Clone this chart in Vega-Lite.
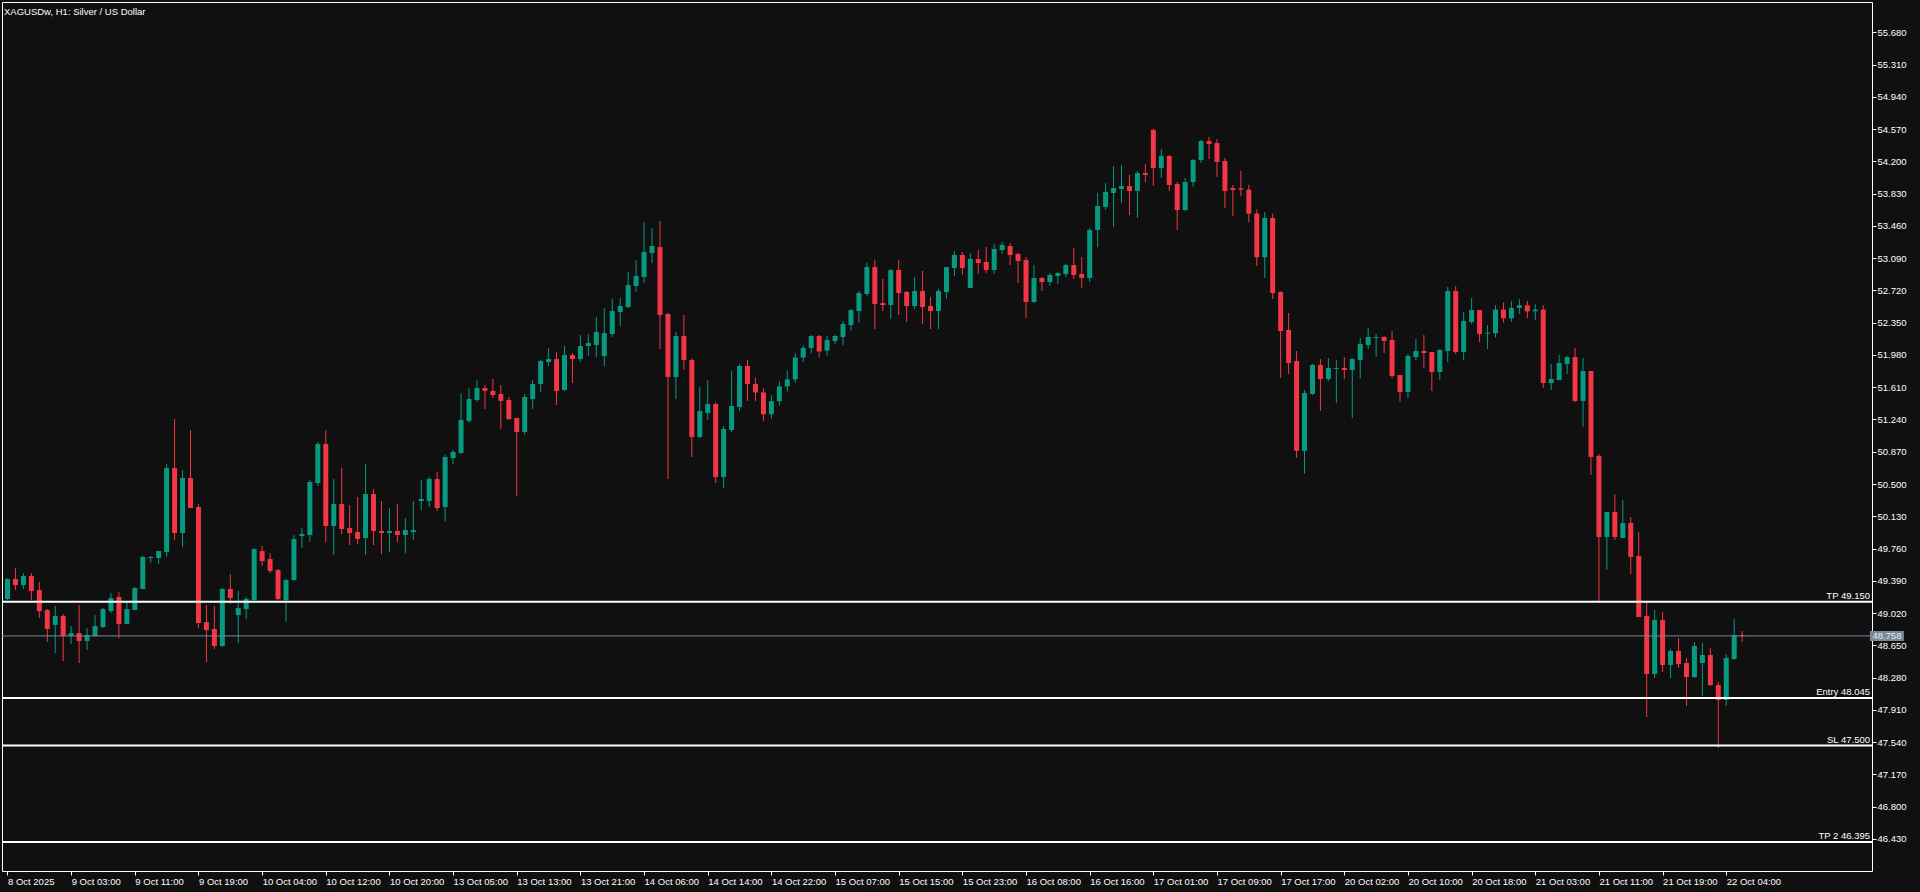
{
"$schema": "https://vega.github.io/schema/vega-lite/v6.json",
"width": 1870,
"height": 869,
"autosize": {"type": "none"},
"padding": {"left": 2, "top": 2, "right": 48, "bottom": 21},
"background": "#101010",
"view": {"stroke": "#ffffff", "strokeWidth": 1, "fill": "#101010"},
"title": {"text": "XAGUSDw, H1:  Silver / US Dollar", "anchor": "start", "frame": "group", "orient": "top", "offset": -14, "dx": 2, "fontSize": 9.5, "fontWeight": "normal", "color": "#ffffff", "font": "Liberation Sans"},
"datasets": {
"bars": [
{"i":0,"o":49.181,"h":49.418,"l":49.17,"c":49.41},
{"i":1,"o":49.41,"h":49.536,"l":49.284,"c":49.341},
{"i":2,"o":49.341,"h":49.479,"l":49.296,"c":49.445},
{"i":3,"o":49.445,"h":49.479,"l":49.169,"c":49.273},
{"i":4,"o":49.284,"h":49.376,"l":48.963,"c":49.043},
{"i":5,"o":49.055,"h":49.066,"l":48.688,"c":48.837},
{"i":6,"o":48.883,"h":49.101,"l":48.562,"c":48.986},
{"i":7,"o":48.986,"h":49.009,"l":48.47,"c":48.757},
{"i":8,"o":48.757,"h":48.871,"l":48.665,"c":48.791},
{"i":9,"o":48.791,"h":49.112,"l":48.447,"c":48.699},
{"i":10,"o":48.699,"h":48.848,"l":48.596,"c":48.768},
{"i":11,"o":48.757,"h":48.997,"l":48.745,"c":48.871},
{"i":12,"o":48.86,"h":49.078,"l":48.848,"c":49.066},
{"i":13,"o":49.043,"h":49.25,"l":49.02,"c":49.192},
{"i":14,"o":49.204,"h":49.261,"l":48.734,"c":48.894},
{"i":15,"o":48.894,"h":49.147,"l":48.894,"c":49.066},
{"i":16,"o":49.055,"h":49.319,"l":49.055,"c":49.307},
{"i":17,"o":49.296,"h":49.674,"l":49.296,"c":49.663},
{"i":18,"o":49.651,"h":49.674,"l":49.594,"c":49.663},
{"i":19,"o":49.651,"h":49.731,"l":49.582,"c":49.731},
{"i":20,"o":49.72,"h":50.729,"l":49.663,"c":50.683},
{"i":21,"o":50.683,"h":51.245,"l":49.858,"c":49.938},
{"i":22,"o":49.938,"h":50.66,"l":49.777,"c":50.568},
{"i":23,"o":50.568,"h":51.119,"l":50.224,"c":50.224},
{"i":24,"o":50.236,"h":50.27,"l":48.848,"c":48.906},
{"i":25,"o":48.917,"h":49.112,"l":48.458,"c":48.825},
{"i":26,"o":48.837,"h":49.101,"l":48.607,"c":48.642},
{"i":27,"o":48.642,"h":49.307,"l":48.63,"c":49.296},
{"i":28,"o":49.296,"h":49.468,"l":49.124,"c":49.192},
{"i":29,"o":48.997,"h":49.273,"l":48.676,"c":49.078},
{"i":30,"o":49.066,"h":49.204,"l":48.952,"c":49.181},
{"i":31,"o":49.17,"h":49.76,"l":49.16,"c":49.754},
{"i":32,"o":49.731,"h":49.789,"l":49.559,"c":49.617},
{"i":33,"o":49.64,"h":49.708,"l":49.479,"c":49.502},
{"i":34,"o":49.513,"h":49.525,"l":49.17,"c":49.18},
{"i":35,"o":49.17,"h":49.41,"l":48.92,"c":49.399},
{"i":36,"o":49.399,"h":49.915,"l":49.387,"c":49.869},
{"i":37,"o":49.903,"h":49.995,"l":49.766,"c":49.926},
{"i":38,"o":49.915,"h":50.546,"l":49.835,"c":50.523},
{"i":39,"o":50.511,"h":50.982,"l":50.477,"c":50.959},
{"i":40,"o":50.959,"h":51.119,"l":49.835,"c":50.018},
{"i":41,"o":50.018,"h":50.557,"l":49.685,"c":50.271},
{"i":42,"o":50.271,"h":50.683,"l":49.926,"c":49.984},
{"i":43,"o":49.995,"h":50.259,"l":49.8,"c":49.938},
{"i":44,"o":49.949,"h":50.351,"l":49.812,"c":49.869},
{"i":45,"o":49.881,"h":50.729,"l":49.685,"c":50.385},
{"i":46,"o":50.385,"h":50.442,"l":49.8,"c":49.961},
{"i":47,"o":49.961,"h":50.305,"l":49.697,"c":49.938},
{"i":48,"o":49.938,"h":50.224,"l":49.72,"c":49.961},
{"i":49,"o":49.961,"h":50.27,"l":49.835,"c":49.915},
{"i":50,"o":49.915,"h":50.11,"l":49.708,"c":49.972},
{"i":51,"o":49.949,"h":50.305,"l":49.858,"c":49.972},
{"i":52,"o":50.305,"h":50.546,"l":50.202,"c":50.328},
{"i":53,"o":50.305,"h":50.58,"l":50.236,"c":50.557},
{"i":54,"o":50.557,"h":50.637,"l":50.19,"c":50.224},
{"i":55,"o":50.236,"h":50.832,"l":50.075,"c":50.809},
{"i":56,"o":50.798,"h":50.89,"l":50.729,"c":50.867},
{"i":57,"o":50.856,"h":51.544,"l":50.844,"c":51.234},
{"i":58,"o":51.223,"h":51.601,"l":51.2,"c":51.475},
{"i":59,"o":51.463,"h":51.693,"l":51.441,"c":51.601},
{"i":60,"o":51.601,"h":51.635,"l":51.36,"c":51.567},
{"i":61,"o":51.567,"h":51.704,"l":51.486,"c":51.521},
{"i":62,"o":51.532,"h":51.635,"l":51.131,"c":51.452},
{"i":63,"o":51.463,"h":51.498,"l":51.234,"c":51.245},
{"i":64,"o":51.257,"h":51.257,"l":50.362,"c":51.096},
{"i":65,"o":51.096,"h":51.532,"l":51.062,"c":51.498},
{"i":66,"o":51.475,"h":51.692,"l":51.36,"c":51.647},
{"i":67,"o":51.647,"h":51.922,"l":51.555,"c":51.91},
{"i":68,"o":51.899,"h":52.059,"l":51.853,"c":51.933},
{"i":69,"o":51.933,"h":52.014,"l":51.406,"c":51.566},
{"i":70,"o":51.578,"h":52.082,"l":51.566,"c":51.979},
{"i":71,"o":51.979,"h":52.002,"l":51.658,"c":51.933},
{"i":72,"o":51.933,"h":52.208,"l":51.899,"c":52.082},
{"i":73,"o":52.082,"h":52.22,"l":51.968,"c":52.117},
{"i":74,"o":52.094,"h":52.415,"l":51.956,"c":52.243},
{"i":75,"o":51.968,"h":52.518,"l":51.853,"c":52.231},
{"i":76,"o":52.22,"h":52.621,"l":52.186,"c":52.484},
{"i":77,"o":52.472,"h":52.633,"l":52.312,"c":52.541},
{"i":78,"o":52.53,"h":52.931,"l":52.518,"c":52.782},
{"i":79,"o":52.77,"h":53.069,"l":52.702,"c":52.885},
{"i":80,"o":52.874,"h":53.504,"l":52.805,"c":53.16},
{"i":81,"o":53.149,"h":53.436,"l":53.034,"c":53.229},
{"i":82,"o":53.218,"h":53.516,"l":52.048,"c":52.438},
{"i":83,"o":52.449,"h":52.461,"l":50.557,"c":51.727},
{"i":84,"o":51.727,"h":52.243,"l":51.475,"c":52.197},
{"i":85,"o":52.197,"h":52.438,"l":51.807,"c":51.922},
{"i":86,"o":51.922,"h":51.945,"l":50.809,"c":51.039},
{"i":87,"o":51.039,"h":51.612,"l":51.027,"c":51.337},
{"i":88,"o":51.314,"h":51.692,"l":51.234,"c":51.417},
{"i":89,"o":51.417,"h":51.44,"l":50.511,"c":50.58},
{"i":90,"o":50.58,"h":51.165,"l":50.454,"c":51.131},
{"i":91,"o":51.119,"h":51.796,"l":51.096,"c":51.394},
{"i":92,"o":51.383,"h":51.876,"l":51.337,"c":51.853},
{"i":93,"o":51.853,"h":51.922,"l":51.452,"c":51.647},
{"i":94,"o":51.647,"h":51.72,"l":51.45,"c":51.55},
{"i":95,"o":51.55,"h":51.6,"l":51.22,"c":51.3},
{"i":96,"o":51.3,"h":51.52,"l":51.25,"c":51.45},
{"i":97,"o":51.45,"h":51.68,"l":51.4,"c":51.62},
{"i":98,"o":51.62,"h":51.8,"l":51.56,"c":51.7},
{"i":99,"o":51.7,"h":52.0,"l":51.66,"c":51.95},
{"i":100,"o":51.95,"h":52.09,"l":51.9,"c":52.06},
{"i":101,"o":52.06,"h":52.209,"l":52.0,"c":52.197},
{"i":102,"o":52.197,"h":52.209,"l":51.95,"c":52.02},
{"i":103,"o":52.03,"h":52.197,"l":51.97,"c":52.151},
{"i":104,"o":52.14,"h":52.209,"l":52.105,"c":52.197},
{"i":105,"o":52.186,"h":52.369,"l":52.094,"c":52.335},
{"i":106,"o":52.323,"h":52.507,"l":52.254,"c":52.495},
{"i":107,"o":52.484,"h":52.713,"l":52.346,"c":52.69},
{"i":108,"o":52.679,"h":53.034,"l":52.656,"c":52.988},
{"i":109,"o":52.988,"h":53.069,"l":52.277,"c":52.564},
{"i":110,"o":52.576,"h":52.851,"l":52.484,"c":52.553},
{"i":111,"o":52.553,"h":52.966,"l":52.392,"c":52.954},
{"i":112,"o":52.954,"h":53.069,"l":52.438,"c":52.69},
{"i":113,"o":52.702,"h":52.713,"l":52.358,"c":52.541},
{"i":114,"o":52.541,"h":52.874,"l":52.507,"c":52.713},
{"i":115,"o":52.713,"h":52.943,"l":52.335,"c":52.53},
{"i":116,"o":52.541,"h":52.645,"l":52.277,"c":52.484},
{"i":117,"o":52.484,"h":52.736,"l":52.277,"c":52.713},
{"i":118,"o":52.702,"h":52.988,"l":52.622,"c":52.988},
{"i":119,"o":52.977,"h":53.172,"l":52.885,"c":53.126},
{"i":120,"o":53.126,"h":53.16,"l":52.897,"c":52.977},
{"i":121,"o":52.748,"h":53.149,"l":52.748,"c":53.08},
{"i":122,"o":53.08,"h":53.183,"l":52.908,"c":53.034},
{"i":123,"o":53.046,"h":53.218,"l":52.92,"c":52.954},
{"i":124,"o":52.954,"h":53.252,"l":52.908,"c":53.195},
{"i":125,"o":53.183,"h":53.275,"l":53.138,"c":53.241},
{"i":126,"o":53.229,"h":53.264,"l":53.011,"c":53.126},
{"i":127,"o":53.138,"h":53.149,"l":52.805,"c":53.057},
{"i":128,"o":53.069,"h":53.103,"l":52.404,"c":52.587},
{"i":129,"o":52.587,"h":53.011,"l":52.576,"c":52.862},
{"i":130,"o":52.862,"h":52.874,"l":52.713,"c":52.816},
{"i":131,"o":52.816,"h":52.92,"l":52.77,"c":52.897},
{"i":132,"o":52.885,"h":52.931,"l":52.793,"c":52.92},
{"i":133,"o":52.908,"h":53.023,"l":52.874,"c":53.011},
{"i":134,"o":53.011,"h":53.206,"l":52.851,"c":52.897},
{"i":135,"o":52.908,"h":53.103,"l":52.748,"c":52.862},
{"i":136,"o":52.862,"h":53.436,"l":52.816,"c":53.413},
{"i":137,"o":53.413,"h":53.837,"l":53.218,"c":53.688},
{"i":138,"o":53.677,"h":53.952,"l":53.642,"c":53.849},
{"i":139,"o":53.837,"h":54.147,"l":53.447,"c":53.894},
{"i":140,"o":53.883,"h":54.158,"l":53.722,"c":53.917},
{"i":141,"o":53.917,"h":54.044,"l":53.585,"c":53.86},
{"i":142,"o":53.86,"h":54.089,"l":53.55,"c":54.066},
{"i":143,"o":54.066,"h":54.17,"l":53.963,"c":54.044},
{"i":144,"o":54.56,"h":54.575,"l":53.917,"c":54.124},
{"i":145,"o":54.124,"h":54.342,"l":54.009,"c":54.261},
{"i":146,"o":54.261,"h":54.273,"l":53.86,"c":53.929},
{"i":147,"o":53.94,"h":53.963,"l":53.413,"c":53.642},
{"i":148,"o":53.642,"h":54.009,"l":53.631,"c":53.963},
{"i":149,"o":53.963,"h":54.227,"l":53.906,"c":54.216},
{"i":150,"o":54.216,"h":54.445,"l":54.181,"c":54.433},
{"i":151,"o":54.433,"h":54.479,"l":54.227,"c":54.399},
{"i":152,"o":54.41,"h":54.456,"l":54.021,"c":54.193},
{"i":153,"o":54.204,"h":54.238,"l":53.665,"c":53.86},
{"i":154,"o":53.894,"h":53.929,"l":53.573,"c":53.871},
{"i":155,"o":53.89,"h":54.09,"l":53.8,"c":53.875},
{"i":156,"o":53.875,"h":53.93,"l":53.5,"c":53.6},
{"i":157,"o":53.6,"h":53.65,"l":53.0,"c":53.1},
{"i":158,"o":53.1,"h":53.62,"l":52.862,"c":53.55},
{"i":159,"o":53.55,"h":53.6,"l":52.621,"c":52.69},
{"i":160,"o":52.702,"h":52.71,"l":51.715,"c":52.254},
{"i":161,"o":52.266,"h":52.461,"l":51.761,"c":51.887},
{"i":162,"o":51.91,"h":52.025,"l":50.8,"c":50.88},
{"i":163,"o":50.88,"h":51.578,"l":50.62,"c":51.543},
{"i":164,"o":51.532,"h":51.876,"l":51.521,"c":51.865},
{"i":165,"o":51.865,"h":51.933,"l":51.337,"c":51.704},
{"i":166,"o":51.704,"h":51.945,"l":51.681,"c":51.83},
{"i":167,"o":51.819,"h":51.922,"l":51.429,"c":51.83},
{"i":168,"o":51.83,"h":51.956,"l":51.704,"c":51.807},
{"i":169,"o":51.807,"h":51.945,"l":51.257,"c":51.933},
{"i":170,"o":51.922,"h":52.174,"l":51.715,"c":52.105},
{"i":171,"o":52.094,"h":52.289,"l":52.048,"c":52.186},
{"i":172,"o":52.174,"h":52.22,"l":51.956,"c":52.186},
{"i":173,"o":52.186,"h":52.197,"l":52.002,"c":52.14},
{"i":174,"o":52.151,"h":52.254,"l":51.715,"c":51.738},
{"i":175,"o":51.75,"h":51.75,"l":51.44,"c":51.555},
{"i":176,"o":51.555,"h":51.991,"l":51.486,"c":51.968},
{"i":177,"o":51.956,"h":52.163,"l":51.922,"c":52.025},
{"i":178,"o":52.025,"h":52.209,"l":51.83,"c":52.002},
{"i":179,"o":52.014,"h":52.014,"l":51.566,"c":51.784},
{"i":180,"o":51.784,"h":52.048,"l":51.692,"c":52.037},
{"i":181,"o":52.025,"h":52.759,"l":51.899,"c":52.713},
{"i":182,"o":52.713,"h":52.77,"l":51.991,"c":52.014},
{"i":183,"o":52.014,"h":52.472,"l":51.922,"c":52.369},
{"i":184,"o":52.358,"h":52.633,"l":52.335,"c":52.495},
{"i":185,"o":52.495,"h":52.495,"l":52.128,"c":52.22},
{"i":186,"o":52.225,"h":52.323,"l":52.048,"c":52.235},
{"i":187,"o":52.23,"h":52.55,"l":52.18,"c":52.5},
{"i":188,"o":52.5,"h":52.58,"l":52.35,"c":52.4},
{"i":189,"o":52.4,"h":52.6,"l":52.36,"c":52.52},
{"i":190,"o":52.52,"h":52.62,"l":52.45,"c":52.55},
{"i":191,"o":52.55,"h":52.6,"l":52.4,"c":52.48},
{"i":192,"o":52.48,"h":52.56,"l":52.38,"c":52.5},
{"i":193,"o":52.5,"h":52.55,"l":51.601,"c":51.658},
{"i":194,"o":51.658,"h":51.876,"l":51.578,"c":51.704},
{"i":195,"o":51.693,"h":51.979,"l":51.693,"c":51.888},
{"i":196,"o":51.876,"h":51.968,"l":51.761,"c":51.956},
{"i":197,"o":51.956,"h":52.06,"l":51.44,"c":51.452},
{"i":198,"o":51.452,"h":51.945,"l":51.154,"c":51.796},
{"i":199,"o":51.796,"h":51.796,"l":50.603,"c":50.81},
{"i":200,"o":50.821,"h":50.844,"l":49.135,"c":49.892},
{"i":201,"o":49.892,"h":50.179,"l":49.514,"c":50.179},
{"i":202,"o":50.179,"h":50.385,"l":49.858,"c":49.892},
{"i":203,"o":49.881,"h":50.317,"l":49.881,"c":50.053},
{"i":204,"o":50.053,"h":50.122,"l":49.468,"c":49.663},
{"i":205,"o":49.674,"h":49.949,"l":48.975,"c":48.975},
{"i":206,"o":48.986,"h":49.158,"l":47.828,"c":48.321},
{"i":207,"o":48.321,"h":49.055,"l":48.275,"c":48.94},
{"i":208,"o":48.94,"h":49.032,"l":48.344,"c":48.424},
{"i":209,"o":48.424,"h":48.608,"l":48.275,"c":48.585},
{"i":210,"o":48.585,"h":48.734,"l":48.39,"c":48.436},
{"i":211,"o":48.447,"h":48.505,"l":47.954,"c":48.287},
{"i":212,"o":48.287,"h":48.688,"l":48.275,"c":48.642},
{"i":213,"o":48.447,"h":48.677,"l":48.069,"c":48.539},
{"i":214,"o":48.539,"h":48.619,"l":48.183,"c":48.195},
{"i":215,"o":48.195,"h":48.229,"l":47.472,"c":48.023},
{"i":216,"o":48.023,"h":48.55,"l":47.954,"c":48.505},
{"i":217,"o":48.493,"h":48.952,"l":48.482,"c":48.768},
{"i":218,"o":48.768,"h":48.814,"l":48.688,"c":48.758}
],
"levels": [
{"label":"TP 49.150","p":49.15},
{"label":"Entry 48.045","p":48.045},
{"label":"SL 47.500","p":47.5},
{"label":"TP 2 46.395","p":46.395}
],
"bid": [{"p":48.758}]
},
"layer": [
{
"data": {"name": "bars"},
"mark": {"type": "rule", "clip": true, "strokeWidth": 1},
"encoding": {
"x": {"field": "i", "type": "quantitative", "title": null,
"scale": {"domain": [-0.0625, 233.6875], "nice": false, "zero": false},
"axis": {"orient": "bottom", "title": null, "tickCount": 40, "values": [0,8,16,24,32,40,48,56,64,72,80,88,96,104,112,120,128,136,144,152,160,168,176,184,192,200,208,216],
"labelExpr": "['8 Oct 2025','9 Oct 03:00','9 Oct 11:00','9 Oct 19:00','10 Oct 04:00','10 Oct 12:00','10 Oct 20:00','13 Oct 05:00','13 Oct 13:00','13 Oct 21:00','14 Oct 06:00','14 Oct 14:00','14 Oct 22:00','15 Oct 07:00','15 Oct 15:00','15 Oct 23:00','16 Oct 08:00','16 Oct 16:00','17 Oct 01:00','17 Oct 09:00','17 Oct 17:00','20 Oct 02:00','20 Oct 10:00','20 Oct 18:00','21 Oct 03:00','21 Oct 11:00','21 Oct 19:00','22 Oct 04:00'][round(datum.value/8)]",
"labelAlign": "left", "labelBaseline": "top", "labelPadding": 1, "labelFlush": false, "labelOverlap": false, "labelBound": false,
"labelColor": "#ffffff", "labelFont": "Liberation Sans", "labelFontSize": 9.5,
"tickColor": "#ffffff", "tickSize": 4, "tickWidth": 1, "domain": false, "grid": false}},
"y": {"field": "l", "type": "quantitative", "title": null,
"scale": {"domain": [46.062, 56.0275], "nice": false, "zero": false},
"axis": {"orient": "right", "title": null, "tickCount": 40, "values": [46.43,46.8,47.17,47.54,47.91,48.28,48.65,49.02,49.39,49.76,50.13,50.5,50.87,51.24,51.61,51.98,52.35,52.72,53.09,53.46,53.83,54.2,54.57,54.94,55.31,55.68],
"format": ".3f", "labelPadding": 1, "labelFlush": false, "labelOverlap": false, "labelBound": false,
"labelColor": "#ffffff", "labelFont": "Liberation Sans", "labelFontSize": 9.5,
"tickColor": "#ffffff", "tickSize": 4, "tickWidth": 1, "domain": false, "grid": false}},
"y2": {"field": "h"},
"color": {"condition": {"test": "datum.c >= datum.o", "value": "#089981"}, "value": "#F23645"}
}
},
{
"data": {"name": "bars"},
"mark": {"type": "bar", "clip": true, "width": 5},
"encoding": {
"x": {"field": "i", "type": "quantitative", "title": null},
"y": {"field": "o", "type": "quantitative", "title": null},
"y2": {"field": "c"},
"color": {"condition": {"test": "datum.c >= datum.o", "value": "#089981"}, "value": "#F23645"}
}
},
{
"data": {"name": "bid"},
"mark": {"type": "rule", "color": "#778899", "strokeWidth": 1},
"encoding": {"y": {"field": "p", "type": "quantitative", "title": null}}
},
{
"data": {"name": "levels"},
"mark": {"type": "rule", "color": "#ffffff", "strokeWidth": 2},
"encoding": {"y": {"field": "p", "type": "quantitative", "title": null}}
},
{
"data": {"name": "levels"},
"mark": {"type": "text", "align": "right", "baseline": "alphabetic", "dx": -2, "dy": -3, "color": "#ffffff", "font": "Liberation Sans", "fontSize": 9.5},
"encoding": {
"x": {"value": "width"},
"y": {"field": "p", "type": "quantitative", "title": null},
"text": {"field": "label"}
}
},
{
"data": {"name": "bid"},
"mark": {"type": "point", "shape": "M-1.7,-0.5H1.7V0.5H-1.7Z", "size": 400, "filled": true, "color": "#778899", "opacity": 1, "strokeWidth": 0, "clip": false},
"encoding": {
"x": {"datum": 236.19},
"y": {"field": "p", "type": "quantitative", "title": null}
}
},
{
"data": {"name": "bid"},
"mark": {"type": "text", "align": "center", "baseline": "middle", "color": "#e6eaee", "font": "Liberation Sans", "fontSize": 9.5, "clip": false},
"encoding": {
"x": {"datum": 236.19},
"y": {"field": "p", "type": "quantitative", "title": null},
"text": {"field": "p", "type": "quantitative", "format": ".3f"}
}
}
]
}
